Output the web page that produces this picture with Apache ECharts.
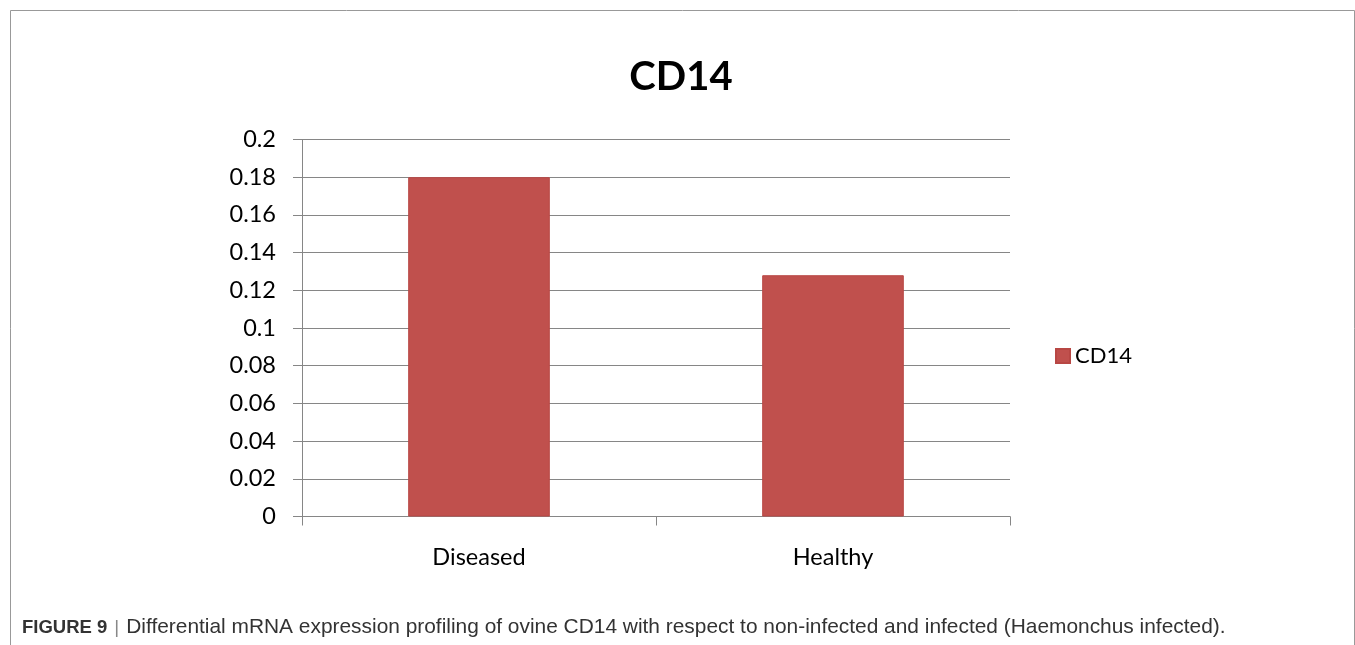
<!DOCTYPE html>
<html>
<head>
<meta charset="utf-8">
<script src="https://cdn.jsdelivr.net/npm/echarts@6/dist/echarts.min.js"></script>
<style>
  html, body { margin: 0; padding: 0; background: #fff; }
  #chart { width: 1355px; height: 645px; }
</style>
</head>
<body>
<div id="chart"></div>
<script>
// CD14 relative mRNA expression per group
const categories = ['Diseased', 'Healthy'];
const cd14Values = [0.18, 0.128];
const seriesName = 'CD14';
const captionLabel = 'FIGURE 9';
const captionText = 'Differential mRNA expression profiling of ovine CD14 with respect to non-infected and infected (Haemonchus infected).';

const axisGray = '#868686';
const chart = echarts.init(document.getElementById('chart'), null, { renderer: 'canvas' });

chart.setOption({
  animation: false,
  backgroundColor: '#ffffff',
  title: {
    text: 'CD14',
    left: 676,
    top: 52,
    textAlign: 'center',
    textStyle: { fontFamily: 'Lato', fontWeight: 'bold', fontSize: 40, color: '#000' }
  },
  legend: {
    data: [seriesName],
    left: 1050,
    top: 340,
    icon: 'rect',
    itemWidth: 14,
    itemHeight: 14,
    itemGap: 6,
    textStyle: { fontFamily: 'Lato', fontSize: 22, color: '#000' }
  },
  grid: { left: 302, right: 345, top: 139.5, bottom: 128.5, containLabel: false },
  xAxis: {
    type: 'category',
    data: categories,
    axisLine: { show: true, lineStyle: { color: axisGray, width: 1 } },
    axisTick: { show: true, length: 9, lineStyle: { color: axisGray } },
    axisLabel: { margin: 29, fontFamily: 'Lato', fontSize: 23.5, color: '#000' },
    splitLine: { show: false }
  },
  yAxis: {
    type: 'value',
    min: 0,
    max: 0.2,
    interval: 0.02,
    axisLine: { show: true, lineStyle: { color: axisGray, width: 1 } },
    axisTick: { show: true, length: 9, lineStyle: { color: axisGray } },
    axisLabel: {
      margin: 26,
      fontFamily: 'Lato',
      fontSize: 23.5,
      color: '#000',
      formatter: v => String(parseFloat(v.toFixed(2)))
    },
    splitLine: { show: true, lineStyle: { color: axisGray, width: 1 } }
  },
  series: [{
    name: seriesName,
    type: 'bar',
    data: cd14Values,
    barWidth: '40%',
    itemStyle: { color: '#C0504D', borderColor: '#B84744', borderWidth: 1 }
  }],
  graphic: [
    {
      type: 'polyline',
      shape: { points: [[10.5, 700], [10.5, 10.5], [1354.5, 10.5], [1354.5, 700]] },
      style: { stroke: '#999999', lineWidth: 1, fill: null },
      silent: true
    },
    {
      type: 'text',
      left: 22,
      top: 617,
      style: {
        text: '{b|' + captionLabel + '}{s||}{n|' + captionText + '}',
        rich: {
          b: { fontFamily: 'Liberation Sans', fontWeight: 'bold', fontSize: 18.5, fill: '#333' },
          s: { fontFamily: 'Liberation Sans', fontSize: 19, fill: '#888', padding: [0, 7, 0, 7] },
          n: { fontFamily: 'Liberation Sans', fontSize: 20.9, fill: '#333' }
        }
      }
    }
  ]
});
</script>
</body>
</html>
